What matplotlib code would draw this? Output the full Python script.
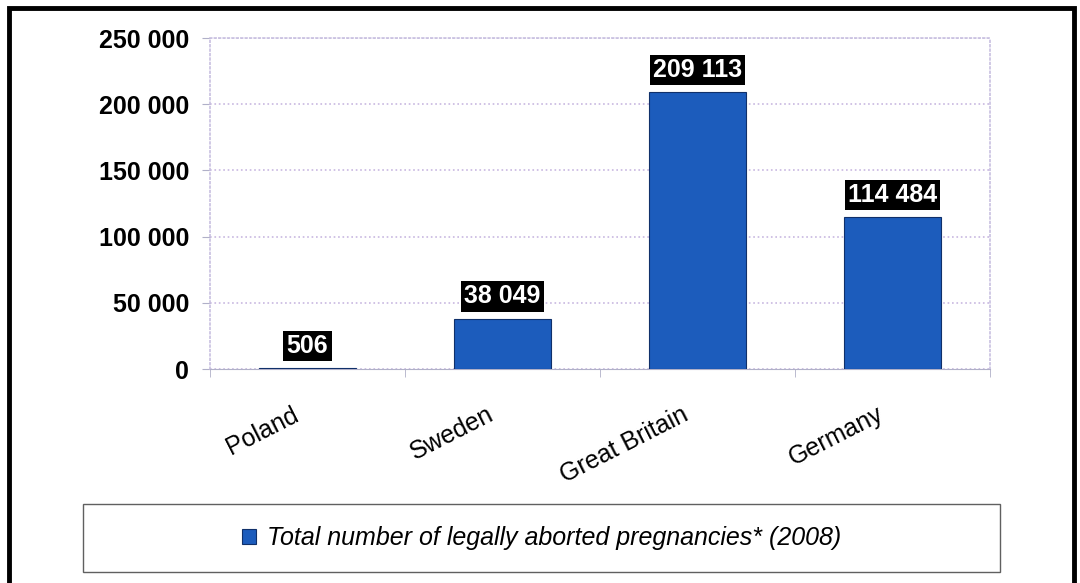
import matplotlib.pyplot as plt
from matplotlib.patches import Rectangle
from matplotlib.ticker import FuncFormatter
from matplotlib.transforms import ScaledTranslation

countries = ["Poland", "Sweden", "Great Britain", "Germany"]
abortions = [506, 38049, 209113, 114484]
value_labels = ["506", "38 049", "209 113", "114 484"]
legend_label = "Total number of legally aborted pregnancies* (2008)"

plt.rcParams['font.family'] = ['Liberation Sans', 'DejaVu Sans']

fig = plt.figure(figsize=(10.8, 5.83), dpi=100)
ax = fig.add_axes([0.1944, 0.367, 0.7222, 0.5678])

x = list(range(len(countries)))
bars = ax.bar(x, abortions, width=0.5, color="#1c5cbc", edgecolor="#10306a",
              linewidth=0.8, label=legend_label, zorder=3)

ax.set_xlim(-0.5, len(countries) - 0.5)
ax.set_ylim(0, 250000)
ax.set_yticks(range(0, 250001, 50000))
ax.yaxis.set_major_formatter(FuncFormatter(lambda v, p: f"{int(v):,}".replace(",", " ")))
ax.tick_params(axis='y', labelsize=18, length=6, color="#b0b0c8", pad=9)
for t in ax.get_yticklabels():
    t.set_fontweight("bold")

# category labels rotated, ticks between categories
ax.set_xticks(x)
ax.set_xticklabels(countries, rotation=27, ha="right", rotation_mode="anchor", fontsize=18)
ax.tick_params(axis='x', length=0, pad=24)
shift = ScaledTranslation(-0.16, 0, fig.dpi_scale_trans)
for t in ax.get_xticklabels():
    t.set_transform(t.get_transform() + shift)
ax.set_xticks([i - 0.5 for i in range(len(countries) + 1)], minor=True)
ax.tick_params(axis='x', which='minor', length=6, color="#b0b0c8")

ax.grid(axis='y', color="#c8b8e0", linestyle=":", linewidth=1.2, zorder=0)
for side in ["left", "right", "top"]:
    ax.spines[side].set_color("#c8c0e0")
    ax.spines[side].set_linestyle(":")
    ax.spines[side].set_linewidth(1.2)
ax.spines["bottom"].set_color("#b0b0c8")

for xi, val, lab in zip(x, abortions, value_labels):
    ax.annotate(lab, (xi, val), xytext=(0, 7.4), textcoords="offset points",
                ha="center", va="bottom", fontsize=18, fontweight="bold", color="white",
                bbox=dict(boxstyle="square,pad=0.13", facecolor="black", edgecolor="none"))

# outer frame
fig.patches.append(Rectangle((0.0083, -0.05), 0.9860, 1.036, transform=fig.transFigure,
                             fill=False, edgecolor="black", linewidth=3.5))
# legend box
fig.patches.append(Rectangle((0.0769, 0.0189), 0.849, 0.1166, transform=fig.transFigure,
                             fill=False, edgecolor="#606060", linewidth=1.0))
fig.legend(handles=[bars], labels=[legend_label], loc="center",
           bbox_to_anchor=(0.0769, 0.0189, 0.849, 0.1166), frameon=False,
           prop={'size': 18, 'style': 'italic'}, handlelength=0.55, handleheight=0.55,
           handletextpad=0.45)

fig.savefig("out.png", dpi=100)
